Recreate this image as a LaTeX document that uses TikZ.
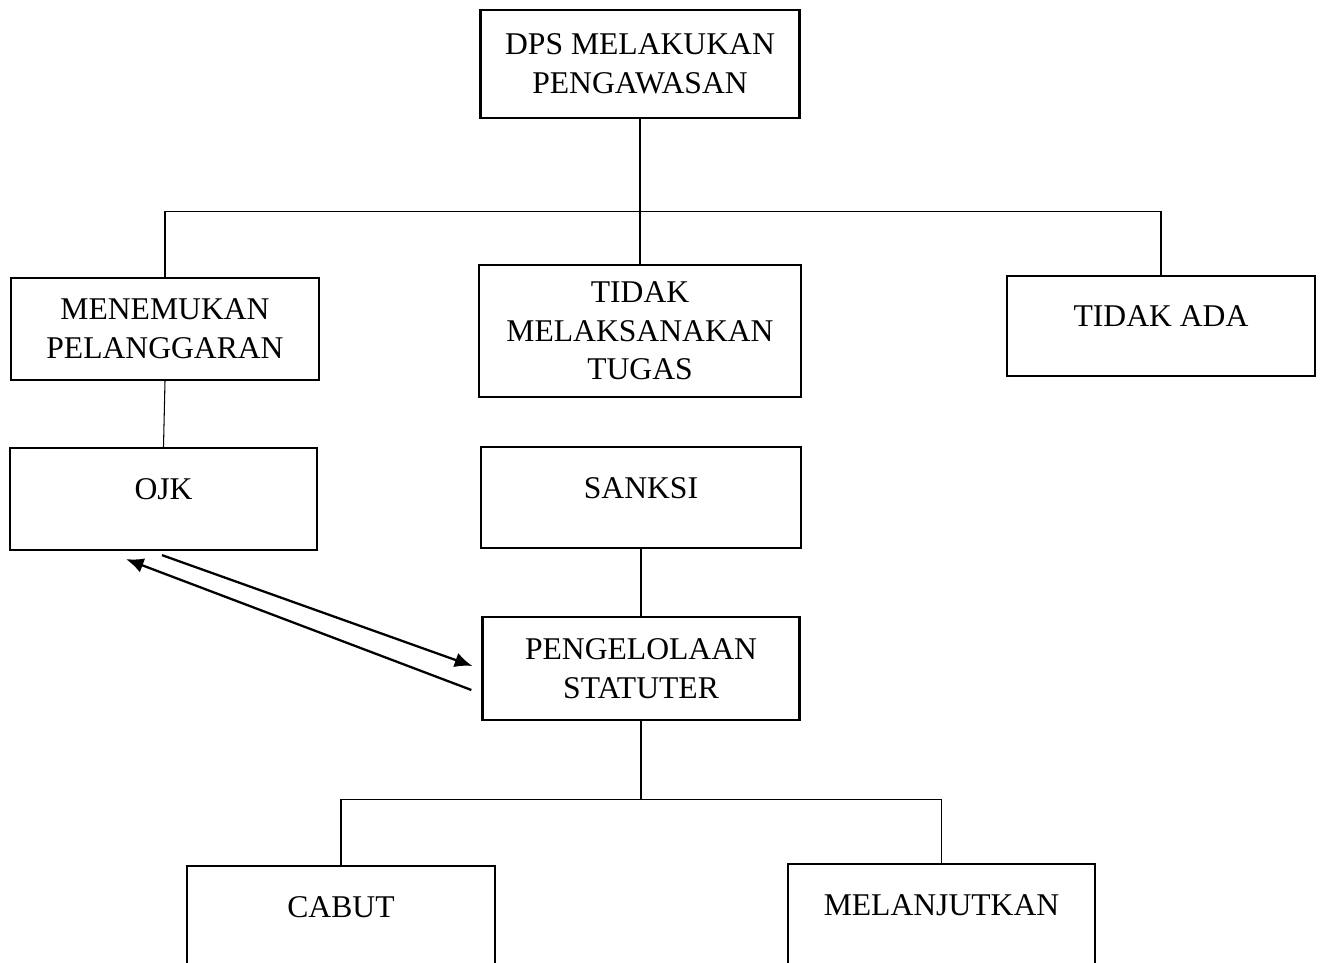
\documentclass[tikz,border=0pt]{standalone}
\usepackage{fontspec}
\setmainfont{Liberation Serif}
\usetikzlibrary{arrows.meta,positioning,calc}

\begin{document}
\begin{tikzpicture}[>={Latex[length=10pt,width=8.5pt]},
  box/.style={draw, line width=1.3pt, align=center, font=\fontsize{18}{22}\selectfont, minimum height=2.04cm},
  onebox/.style={box, text height=0.45cm, text depth=0.42cm},
  link/.style={line width=0.6pt}]
  \useasboundingbox (0,0) rectangle (26.46,19.26);
  \clip (0,0) rectangle (26.46,19.26);

  \node[box, minimum width=6.38cm, minimum height=2.16cm] (dps) at (12.8,17.98) {DPS MELAKUKAN\\PENGAWASAN};
  \node[box, minimum width=6.16cm] (temu) at (3.3,12.68) {MENEMUKAN\\PELANGGARAN};
  \node[box, minimum width=6.44cm, minimum height=2.64cm] (tugas) at (12.8,12.64) {TIDAK\\MELAKSANAKAN\\TUGAS};
  \node[onebox, minimum width=6.16cm, minimum height=2.0cm] (tidak) at (23.22,12.74) {TIDAK ADA};
  \node[onebox, minimum width=6.14cm] (ojk) at (3.27,9.28) {OJK};
  \node[onebox, minimum width=6.4cm, minimum height=2.02cm] (sanksi) at (12.82,9.31) {SANKSI};
  \node[box, minimum width=6.34cm, minimum height=2.06cm] (statuter) at (12.82,5.89) {PENGELOLAAN\\STATUTER};
  \node[onebox, minimum width=6.16cm] (cabut) at (6.82,0.92) {CABUT};
  \node[onebox, minimum width=6.14cm] (lanjut) at (18.83,0.96) {MELANJUTKAN};

  % cabang atas
  \coordinate (busatas) at ($(dps.south)+(0,-1.84)$);
  \draw[link] (dps.south) -- (busatas);
  \draw[link] (temu.north) |- (busatas) -| (tidak.north);
  \draw[link] (busatas) -- (tugas.north);
  \draw[link] (temu.south) -- (ojk.north);
  \draw[link] (sanksi.south) -- (statuter.north);

  % cabang bawah
  \coordinate (busbawah) at ($(statuter.south)+(0,-1.56)$);
  \draw[link] (statuter.south) -- (busbawah);
  \draw[link] (cabut.north) |- (busbawah) -| (lanjut.north);

  % panah OJK - statuter
  \draw[->, line width=1.3pt] ($(ojk.south)+(-0.03,-0.08)$) -- ($(statuter.west)+(-0.18,0.05)$);
  \draw[->, line width=1.3pt] ($(statuter.west)+(-0.2,-0.43)$) -- ($(ojk.south)+(-0.75,-0.16)$);
\end{tikzpicture}
\end{document}
